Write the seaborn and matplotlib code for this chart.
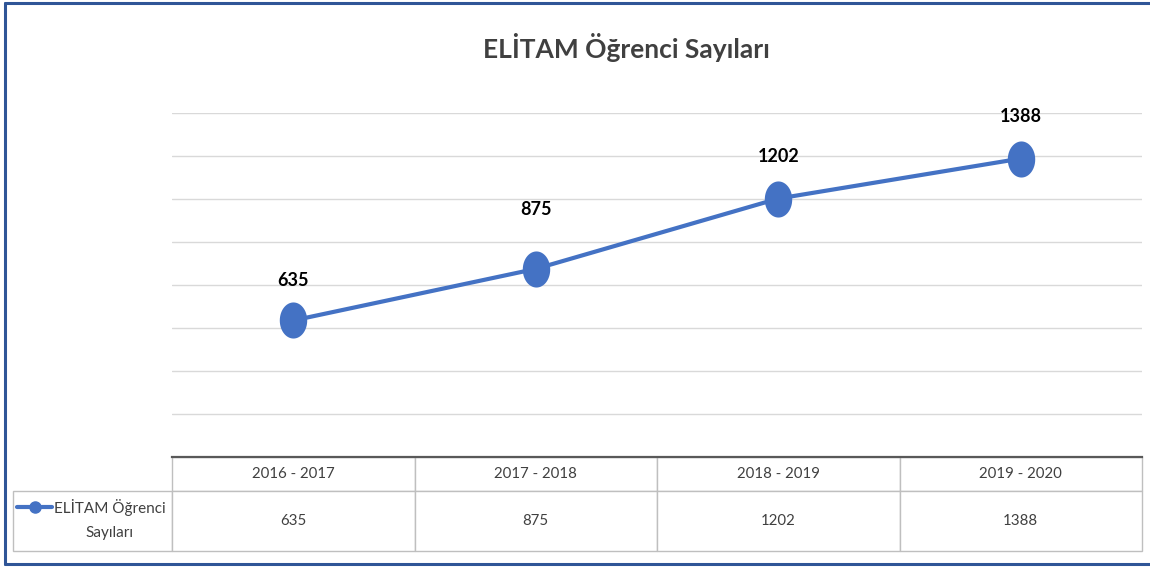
import numpy as np
import matplotlib.pyplot as plt
import seaborn as sns
from matplotlib.path import Path
from matplotlib.lines import Line2D

years = ["2016 - 2017", "2017 - 2018", "2018 - 2019", "2019 - 2020"]
counts = [635, 875, 1202, 1388]
series_name = "ELİTAM Öğrenci Sayıları"

blue = "#4472C4"
text_gray = "#404040"
grid_gray = "#D9D9D9"
table_gray = "#BFBFBF"
frame_blue = "#2F5597"

sns.set_style("white")
plt.rcParams["font.family"] = ["Lato", "DejaVu Sans"]

# markers are slightly taller than wide in the source picture
t = np.linspace(0, 2 * np.pi, 61)
ellipse = Path(np.column_stack([0.76 * np.cos(t), np.sin(t)]), closed=True)

W, H = 1150, 567
fig = plt.figure(figsize=(W / 100, H / 100), dpi=100)
ax = fig.add_axes([172 / W, 110 / H, 970 / W, 344 / H])

sns.lineplot(x=years, y=counts, ax=ax, color=blue, linewidth=3, sort=False,
             marker=ellipse, markersize=26, markeredgewidth=0,
             markeredgecolor=blue, legend=False)

ax.set_xlim(-0.5, len(years) - 0.5)
ax.set_ylim(0, 1600)
ax.set_yticks(range(0, 1601, 200))
ax.tick_params(left=False, bottom=False, labelleft=False, labelbottom=False)
ax.set_xlabel("")
ax.set_ylabel("")
ax.yaxis.grid(True, color=grid_gray, linewidth=1)
ax.set_axisbelow(True)
for s in ["top", "right", "left"]:
    ax.spines[s].set_visible(False)
ax.spines["bottom"].set_color("#595959")
ax.spines["bottom"].set_linewidth(1.6)
ax.spines["bottom"].set_zorder(5)

# data labels (the 875 one sits a bit higher in the original)
label_offsets = [29, 43, 30, 30]
for i, v in enumerate(counts):
    ax.annotate(f"{v}", (i, v), xytext=(0, label_offsets[i]), textcoords="offset points",
                ha="center", va="center", fontsize=13, fontweight="bold", color="black")

# data table under the chart
cell_text = [[""] + years, [""] + [str(c) for c in counts]]
tab = ax.table(cellText=cell_text, cellLoc="center",
               bbox=[-159 / 970, -94 / 344, 1129 / 970, 94 / 344])
tab.auto_set_font_size(False)
for (r, c), cell in tab.get_celld().items():
    cell.set_width(159 if c == 0 else 242.5)
    cell.set_height(34 if r == 0 else 60)
    cell.set_edgecolor(table_gray)
    cell.set_linewidth(1)
    cell.get_text().set_fontsize(10.8)
    cell.get_text().set_color(text_gray)
tab[0, 0].visible_edges = ""

# legend key inside the first table cell
key = Line2D([], [], color=blue, linewidth=3, marker="o", markersize=8)
fig.legend(handles=[key], labels=["ELİTAM Öğrenci"], loc="center left",
           bbox_to_anchor=(17 / W, 1 - 507 / H), frameon=False, fontsize=11,
           handlelength=2.3, handletextpad=0.15, borderpad=0, borderaxespad=0,
           labelcolor=text_gray)
fig.text(109 / W, 1 - 533 / H, "Sayıları", ha="center", va="center",
         fontsize=11, color=text_gray)

fig.text(626 / W, 1 - 47 / H, series_name, ha="center", va="center",
         fontsize=19, fontweight="bold", color=text_gray)

# blue frame: left, top and bottom edges (the right one is cut off in the source)
for xs, ys in [([5, 5], [3, 564]), ([5, W], [3, 3]), ([5, W], [564, 564])]:
    fig.add_artist(Line2D([x / W for x in xs], [1 - y / H for y in ys],
                          transform=fig.transFigure, color=frame_blue, linewidth=2.2))

fig.savefig("out.png", dpi=100)
